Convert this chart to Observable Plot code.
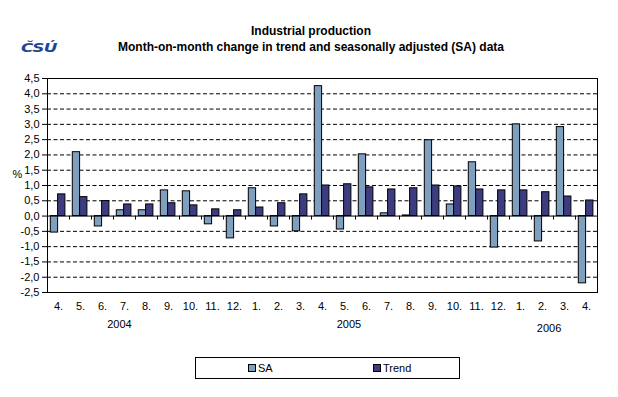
<!DOCTYPE html>
<html><head><meta charset="utf-8">
<script src="https://cdn.jsdelivr.net/npm/d3@7"></script>
<script src="https://cdn.jsdelivr.net/npm/@observablehq/plot@0.6"></script>
<style>
body{margin:0;background:#fff;font-family:"Liberation Sans",Arial,sans-serif;}
#wrap{position:relative;width:618px;height:397px;overflow:hidden;}
#head{position:relative;height:60px;}
.t{position:absolute;left:0;width:622px;text-align:center;font-weight:bold;font-size:12px;line-height:14px;color:#000;}
#logo{position:absolute;left:21px;top:40px;font-family:"DejaVu Sans",sans-serif;font-weight:bold;font-style:italic;font-size:13px;letter-spacing:-0.5px;color:#1f4696;line-height:16px;transform:scale(1.3,1);transform-origin:left center;}
#chart{position:absolute;left:0;top:60px;}
#legend{position:absolute;left:195px;top:357px;width:263px;height:20px;border:1px solid #000;font-size:11px;}
.item{position:absolute;top:4px;line-height:12px;}
.sw{display:inline-block;width:6px;height:6px;border:1px solid #000;margin-right:2px;vertical-align:0px;}
</style></head>
<body>
<div id="wrap">
  <div id="head">
    <div class="t" style="top:24px">Industrial production</div>
    <div class="t" style="top:40px">Month-on-month change in trend and seasonally adjusted (SA) data</div>
    <div id="logo">ČSÚ</div>
  </div>
  <div id="chart"></div>
  <div id="legend"></div>
</div>
<script>
const months = ["4.","5.","6.","7.","8.","9.","10.","11.","12.","1.","2.","3.","4.","5.","6.","7.","8.","9.","10.","11.","12.","1.","2.","3.","4."];
const sa =    [-0.54, 2.09, -0.34, 0.19, 0.19, 0.84, 0.81, -0.27, -0.73, 0.91, -0.34, -0.50, 4.25, -0.44, 2.02, 0.09, 0.02, 2.48, 0.38, 1.76, -1.03, 3.00, -0.83, 2.91, -2.20];
const trend = [0.71, 0.62, 0.49, 0.38, 0.38, 0.42, 0.35, 0.22, 0.19, 0.28, 0.42, 0.71, 1.00, 1.04, 0.94, 0.87, 0.91, 1.00, 0.97, 0.87, 0.84, 0.84, 0.78, 0.64, 0.51];
const yTicks = [-2.5,-2,-1.5,-1,-0.5,0,0.5,1,1.5,2,2.5,3,3.5,4,4.5];
const years = ["2004","2005","2006"];
const yearAt = [3.27, 13.7, 22.8];
const seriesNames = ["SA","Trend"];
const seriesColors = ["#7f9fbf","#3e3c80"];

const rows = months.map((m,i)=>({i, m, sa: sa[i], trend: trend[i]}));
const yearRows = years.map((y,k)=>({y, at: yearAt[k], k}));
const fmt = v => v.toFixed(1).replace(".", ",");

const chart = Plot.plot({
  width: 618, height: 290,
  marginTop: 18, marginBottom: 58, marginLeft: 47, marginRight: 21,
  style: {fontFamily: "Liberation Sans, Arial, sans-serif", fontSize: "11px", color: "#000", background: "#fff", overflow: "visible"},
  x: {domain: [0, months.length], axis: null},
  y: {domain: [-2.5, 4.5], axis: null},
  marks: [
    Plot.ruleY(yTicks.filter(v => v > -2.5 && v < 4.5 && v !== 0), {stroke: "#000", strokeDasharray: "4,2.5"}),
    Plot.rect(rows, {x1: "i", x2: d => d.i + 1, y1: 0, y2: "sa", fill: seriesColors[0], stroke: "#000", insetLeft: 3.3, insetRight: 11.4}),
    Plot.rect(rows, {x1: "i", x2: d => d.i + 1, y1: 0, y2: "trend", fill: seriesColors[1], stroke: "#000", insetLeft: 10.6, insetRight: 4.1}),
    Plot.ruleY([0], {stroke: "#000"}),
    Plot.ruleX(d3.range(1, months.length), {x: d => d, y1: 0, y2: 0, insetBottom: -4, stroke: "#000"}),
    Plot.frame({stroke: "#000"}),
    Plot.axisY(yTicks, {anchor: "left", tickSize: 5, tickPadding: 3, tickFormat: fmt, stroke: "#000"}),
    Plot.text(rows, {x: d => d.i + 0.5, text: "m", frameAnchor: "bottom", dy: 17, fill: "#000"}),
    Plot.text(yearRows.filter(d => d.k < 2), {x: "at", text: "y", frameAnchor: "bottom", dy: 35, fill: "#000"}),
    Plot.text(yearRows.filter(d => d.k === 2), {x: "at", text: "y", frameAnchor: "bottom", dy: 39, fill: "#000"}),
    Plot.text(["%"], {frameAnchor: "left", dx: -35, dy: -11, fill: "#000"})
  ]
});
document.getElementById("chart").appendChild(chart);

const leg = document.getElementById("legend");
const legX = [52, 177];
seriesNames.forEach((n, k) => {
  const it = document.createElement("div");
  it.className = "item";
  it.style.left = legX[k] + "px";
  it.innerHTML = `<span class="sw" style="background:${seriesColors[k]}"></span>${n}`;
  leg.appendChild(it);
});
</script>
</body></html>
